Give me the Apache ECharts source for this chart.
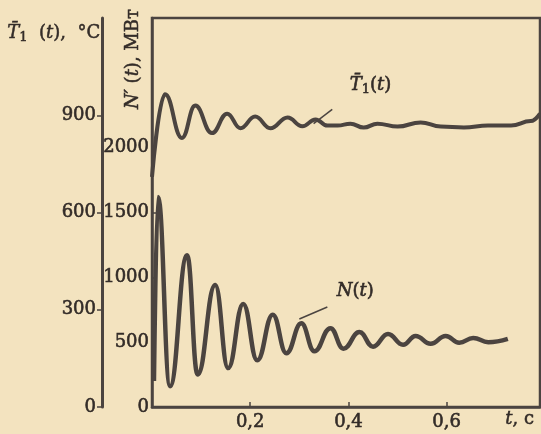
<!DOCTYPE html>
<html>
<head>
<meta charset="utf-8">
<script src="https://cdn.jsdelivr.net/npm/echarts@6/dist/echarts.min.js"></script>
<style>
html,body{margin:0;padding:0;background:#f3e3bf;}
#c{width:541px;height:434px;}
</style>
</head>
<body>
<div id="c"></div>
<script>
// ---- data ----
const tT1 = [0, 0.0265, 0.061, 0.088, 0.122, 0.153, 0.180, 0.210, 0.241, 0.276, 0.306, 0.333, 0.357, 0.378, 0.404, 0.431, 0.459, 0.500, 0.547, 0.588, 0.635, 0.684, 0.731, 0.771, 0.790];
const T1 = [710, 965, 830, 930, 845, 905, 860, 896, 860, 893, 866, 887, 868, 868, 874, 862, 874, 865, 878, 865, 862, 868, 868, 882, 905];

const tN = [0.004, 0.0122, 0.0367, 0.0714, 0.0929, 0.1286, 0.155, 0.1857, 0.2143, 0.2459, 0.2735, 0.304, 0.3306, 0.3633, 0.3898, 0.4224, 0.45, 0.4806, 0.5112, 0.5367, 0.5673, 0.598, 0.6255, 0.654, 0.6847, 0.7245];
const N = [200, 1620, 160, 1170, 250, 940, 300, 795, 360, 712, 415, 645, 430, 608, 450, 578, 465, 563, 480, 548, 488, 548, 496, 532, 500, 526];

const xTicks = [0.2, 0.4, 0.6];
const tempTicks = [0, 300, 600, 900];
const powerTicks = [0, 500, 1000, 1500, 2000];

// annotation anchors (data coordinates)
const leaderT1 = [[0.329, 874], [0.367, 918]];
const leaderN = [[0.300, 679], [0.357, 771]];
const labelT1At = [0.445, 992];
const labelNAt = [0.414, 895];

const ink = '#4b4440';
const txt = '#332c28';
const font = 'DejaVu Serif';

const chart = echarts.init(document.getElementById('c'), null, {renderer: 'canvas'});

const zip = (a, b) => a.map((v, i) => [v, b[i]]);

const thick = {textBorderColor: txt, textBorderWidth: 0.6};

// rich styles for ECharts labels
const richStyle = {
  i: Object.assign({fontFamily: font, fontStyle: 'italic', fontSize: 18, color: txt, lineHeight: 22}, thick),
  n: Object.assign({fontFamily: font, fontSize: 18, color: txt, lineHeight: 22}, thick),
  s: Object.assign({fontFamily: font, fontSize: 13, color: txt, lineHeight: 13, verticalAlign: 'bottom'}, thick)
};

// rich styles for zrender graphic text
const gThick = {fill: txt, stroke: txt, lineWidth: 0.5};
const gRich = {
  i: Object.assign({fontFamily: font, fontStyle: 'italic', fontSize: 18, lineHeight: 22}, gThick),
  n: Object.assign({fontFamily: font, fontSize: 18, lineHeight: 22}, gThick),
  s: Object.assign({fontFamily: font, fontSize: 13, lineHeight: 13, verticalAlign: 'bottom'}, gThick)
};
const gRichV = {
  i: Object.assign({fontFamily: font, fontStyle: 'italic', fontSize: 18}, gThick),
  n: Object.assign({fontFamily: font, fontSize: 18}, gThick)
};

const labelBase = Object.assign({color: txt, fontFamily: font, fontSize: 18}, thick);

chart.setOption({
  backgroundColor: '#f3e3bf',
  animation: false,
  grid: {
    left: 152, top: 18, right: 1, bottom: 27,
    show: true, borderColor: ink, borderWidth: 2.5, backgroundColor: 'transparent'
  },
  xAxis: {
    type: 'value', min: 0, max: 0.79, interval: 0.2,
    splitLine: {show: false},
    axisLine: {show: true, lineStyle: {color: ink, width: 2.5}},
    axisTick: {show: true, inside: true, length: 5, customValues: xTicks, lineStyle: {color: ink, width: 1.5}},
    axisLabel: Object.assign({}, labelBase, {
      margin: 6, customValues: xTicks,
      formatter: v => String(+(+v).toFixed(1)).replace('.', ',')
    })
  },
  yAxis: [
    {
      type: 'value', min: 0, max: 3000, interval: 500, position: 'left',
      splitLine: {show: false},
      axisLine: {show: true, onZero: false, lineStyle: {color: ink, width: 2.5}},
      axisTick: {show: true, inside: true, length: 4, customValues: powerTicks, lineStyle: {color: ink, width: 1.5}},
      axisLabel: Object.assign({}, labelBase, {margin: 3, customValues: powerTicks, formatter: v => String(v)})
    },
    {
      type: 'value', min: 0, max: 1200, interval: 300, position: 'left', offset: 50,
      splitLine: {show: false},
      axisLine: {show: true, onZero: false, lineStyle: {color: ink, width: 3}},
      axisTick: {show: true, length: 5, customValues: tempTicks, lineStyle: {color: ink, width: 1.5}},
      axisLabel: Object.assign({}, labelBase, {margin: 6, customValues: tempTicks, formatter: v => String(v)})
    }
  ],
  series: [
    {
      name: 'T1', type: 'line', yAxisIndex: 1, data: zip(tT1, T1),
      smooth: 0.45, smoothMonotone: 'x', showSymbol: false,
      lineStyle: {color: ink, width: 4},
      markLine: {
        silent: true, symbol: ['none', 'none'],
        lineStyle: {color: ink, width: 1.5, type: 'solid'},
        label: {show: false},
        data: [[{coord: leaderT1[0]}, {coord: leaderT1[1]}]]
      },
      markPoint: {
        symbol: 'rect', symbolSize: 1, itemStyle: {color: 'rgba(0,0,0,0)'},
        label: {
          show: true, position: 'inside',
          formatter: '{i|T\u0304}{s|1}{n|(}{i|t}{n|)}', rich: richStyle
        },
        data: [{coord: labelT1At}]
      }
    },
    {
      name: 'N', type: 'line', yAxisIndex: 0, data: zip(tN, N),
      smooth: 0.45, smoothMonotone: 'x', showSymbol: false,
      lineStyle: {color: ink, width: 4.5},
      markLine: {
        silent: true, symbol: ['none', 'none'],
        lineStyle: {color: ink, width: 1.5, type: 'solid'},
        label: {show: false},
        data: [[{coord: leaderN[0]}, {coord: leaderN[1]}]]
      },
      markPoint: {
        symbol: 'rect', symbolSize: 1, itemStyle: {color: 'rgba(0,0,0,0)'},
        label: {
          show: true, position: 'inside',
          formatter: '{i|N}{n|(}{i|t}{n|)}', rich: richStyle
        },
        data: [{coord: labelNAt}]
      }
    }
  ],
  graphic: [
    {
      type: 'text', left: 7, top: 24,
      style: {
        text: '{i|T\u0304}{s|1}{n|  (}{i|t}{n|),  °C}',
        rich: gRich
      }
    },
    {
      type: 'text', x: 133, y: 59, rotation: Math.PI / 2,
      style: {
        text: '{i|N\u2032}{n| (}{i|t}{n|), МВт}',
        align: 'center', verticalAlign: 'middle',
        rich: gRichV
      }
    },
    {
      type: 'text', left: 505, top: 410,
      style: {
        text: '{i|t}{n|, c}',
        rich: gRich
      }
    }
  ]
});
</script>
</body>
</html>
